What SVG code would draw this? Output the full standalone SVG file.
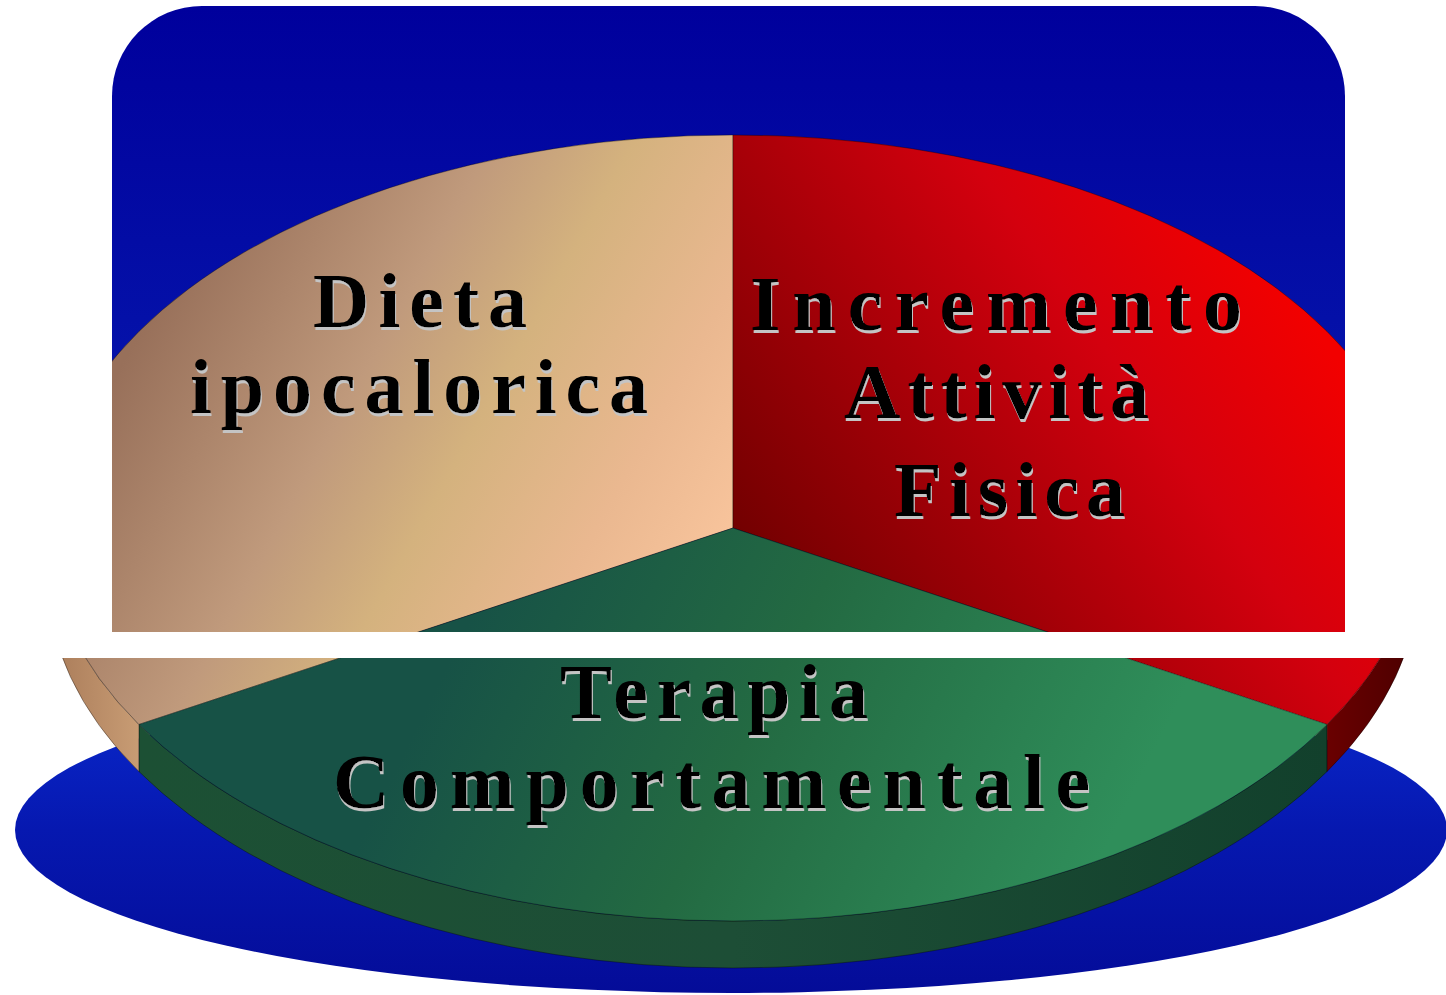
<svg xmlns="http://www.w3.org/2000/svg" xmlns:xlink="http://www.w3.org/1999/xlink" width="1446" height="995" viewBox="0 0 1446 995">
  <style>
    .lbl { font-family: "Liberation Serif", "Times New Roman", serif; font-weight: bold; font-size: 78px; fill: #000000; filter: url(#txtShadow); }
    .edge { stroke: #000000; stroke-opacity: 0.35; stroke-width: 1; }
  </style>
  <defs>
    <filter id="txtShadow" x="-5%" y="-20%" width="110%" height="140%">
      <feOffset in="SourceAlpha" dx="1" dy="3" result="off"/>
      <feFlood flood-color="#c4c4c4"/>
      <feComposite in2="off" operator="in" result="sh"/>
      <feMerge>
        <feMergeNode in="sh"/>
        <feMergeNode in="SourceGraphic"/>
      </feMerge>
    </filter>
    <linearGradient id="bgBlue" x1="0" y1="0" x2="0" y2="1">
      <stop offset="0" stop-color="#00009c"/>
      <stop offset="0.5" stop-color="#0410a8"/>
      <stop offset="1" stop-color="#0a1eb6"/>
    </linearGradient>
    <linearGradient id="baseBlue" x1="0" y1="0" x2="0" y2="1">
      <stop offset="0" stop-color="#0a2cd2"/>
      <stop offset="0.5" stop-color="#0618b0"/>
      <stop offset="1" stop-color="#040c98"/>
    </linearGradient>
    <linearGradient id="tanTop" gradientUnits="userSpaceOnUse" x1="180" y1="260" x2="720" y2="560">
      <stop offset="0" stop-color="#98705a"/>
      <stop offset="0.35" stop-color="#c09a7c"/>
      <stop offset="0.55" stop-color="#d4b27e"/>
      <stop offset="0.8" stop-color="#eab890"/>
      <stop offset="1" stop-color="#f8c49c"/>
    </linearGradient>
    <linearGradient id="redTop" gradientUnits="userSpaceOnUse" x1="760" y1="600" x2="1260" y2="250">
      <stop offset="0" stop-color="#6e0000"/>
      <stop offset="0.4" stop-color="#a80008"/>
      <stop offset="0.7" stop-color="#d4000e"/>
      <stop offset="1" stop-color="#f20000"/>
    </linearGradient>
    <linearGradient id="greenTop" gradientUnits="userSpaceOnUse" x1="500" y1="560" x2="1100" y2="860">
      <stop offset="0" stop-color="#175246"/>
      <stop offset="0.45" stop-color="#236a42"/>
      <stop offset="1" stop-color="#2f8e5a"/>
    </linearGradient>
    <linearGradient id="greenSide" x1="0" y1="0" x2="1" y2="0">
      <stop offset="0" stop-color="#1c5034"/>
      <stop offset="0.5" stop-color="#1d4e36"/>
      <stop offset="1" stop-color="#12402c"/>
    </linearGradient>
    <linearGradient id="redSide" x1="0" y1="0" x2="1" y2="0">
      <stop offset="0" stop-color="#6a0000"/>
      <stop offset="1" stop-color="#4a0000"/>
    </linearGradient>
    <linearGradient id="tanSide" x1="0" y1="0" x2="1" y2="0">
      <stop offset="0" stop-color="#a87a58"/>
      <stop offset="1" stop-color="#c89c74"/>
    </linearGradient>
    <clipPath id="clipTop">
      <path d="M112,632 V96 A90,90 0 0 1 202,6 H1255 A90,90 0 0 1 1345,96 V632 Z"/>
    </clipPath>
    <clipPath id="clipBottom">
      <rect x="0" y="658" width="1446" height="337"/>
    </clipPath>
    <g id="scene">
      <ellipse id="base" cx="731" cy="830" rx="716" ry="163" fill="url(#baseBlue)"/>
      <g id="sides">
        <path d="M1327.1,724.5 A686,393 0 0 1 138.9,724.5 L138.9,771.5 A686,393 0 0 0 1327.1,771.5 Z" fill="url(#greenSide)" class="edge"/>
        <path d="M1419,528 A686,393 0 0 1 1327.1,724.5 L1327.1,771.5 A686,393 0 0 0 1419,575 Z" fill="url(#redSide)" class="edge"/>
        <path d="M138.9,724.5 A686,393 0 0 1 47,528 L47,575 A686,393 0 0 0 138.9,771.5 Z" fill="url(#tanSide)" class="edge"/>
      </g>
      <g id="tops">
        <path id="slice-dieta" d="M733,528 L138.9,724.5 A686,393 0 0 1 733,135 Z" fill="url(#tanTop)" class="edge"/>
        <path id="slice-attivita" d="M733,528 L733,135 A686,393 0 0 1 1327.1,724.5 Z" fill="url(#redTop)" class="edge"/>
        <path id="slice-terapia" d="M733,528 L1327.1,724.5 A686,393 0 0 1 138.9,724.5 Z" fill="url(#greenTop)" class="edge"/>
      </g>
    </g>
  </defs>

  <rect x="0" y="0" width="1446" height="995" fill="#ffffff"/>

  <g id="top-panel" clip-path="url(#clipTop)">
    <rect x="112" y="6" width="1233" height="626" fill="url(#bgBlue)"/>
    <use xlink:href="#scene"/>
  </g>

  <g id="bottom-panel" clip-path="url(#clipBottom)">
    <use xlink:href="#scene"/>
  </g>

  <g id="label-dieta" class="lbl">
    <text x="313" y="327" textLength="214" lengthAdjust="spacing">Dieta</text>
    <text x="190" y="413" textLength="458" lengthAdjust="spacing">ipocalorica</text>
  </g>

  <g id="label-attivita" class="lbl">
    <text x="750" y="330" textLength="492" lengthAdjust="spacing">Incremento</text>
    <text x="844" y="418" textLength="305" lengthAdjust="spacing">Attività</text>
    <text x="894" y="516" textLength="231" lengthAdjust="spacing">Fisica</text>
  </g>

  <g id="label-terapia" class="lbl">
    <text x="560" y="718" textLength="308" lengthAdjust="spacing">Terapia</text>
    <text x="333" y="808" textLength="757" lengthAdjust="spacing">Comportamentale</text>
  </g>
</svg>
